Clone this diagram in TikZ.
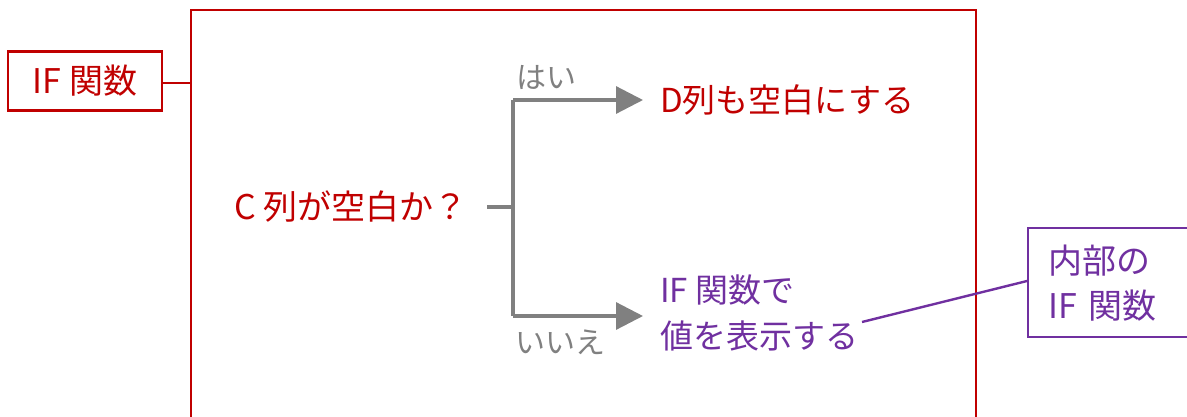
\documentclass[tikz,border=0pt]{standalone}
\usepackage{fontspec}
\setmainfont{Noto Sans CJK JP}
\usetikzlibrary{arrows.meta}
\definecolor{xred}{HTML}{C00000}
\definecolor{xpurple}{HTML}{7030A0}
\definecolor{xgray}{HTML}{808080}
\begin{document}
\begin{tikzpicture}[x=1pt,y=-1pt,
  redtxt/.style={text=xred,font=\fontsize{34}{40}\selectfont,inner sep=0pt},
  purtxt/.style={text=xpurple,font=\fontsize{33}{46}\selectfont,inner sep=0pt,align=left},
  graytxt/.style={text=xgray,font=\fontsize{30}{34}\selectfont,inner sep=0pt},
  conn/.style={draw=xgray,line width=3.2pt},
  arr/.style={conn,-{Triangle[length=27pt,width=27pt]}}]
\useasboundingbox (0,0) rectangle (1187,416);
% outer red frame (open at bottom)
\draw[xred,line width=2.4pt] (191,420) -- (191,10) -- (976,10) -- (976,420);
\coordinate (frameL) at (191,83);
% IF box
\node[draw=xred,line width=2.4pt,minimum width=154pt,minimum height=59pt,inner sep=0pt,
  text=xred,font=\fontsize{34}{40}\selectfont] (ifbox) at (85,81) {IF 関数};
\draw[xred,line width=2.4pt] (ifbox.east |- frameL) -- (frameL);
% question
\node[redtxt] (q) at (351,207) {C 列が空白か？};
\coordinate (qe) at (487,207);
\coordinate (br) at (513,207);
\coordinate (byes) at (513,100);
\coordinate (bno) at (513,316);
\node[redtxt,anchor=west,font=\fontsize{33}{40}\selectfont] (yes) at (660,100) {D列も空白にする};
\node[purtxt,anchor=west] (no) at (660,313) {IF 関数で\\値を表示する};
\coordinate (ayes) at (643,100);
\coordinate (ano) at (643,316);
\draw[conn] (qe) -- (br);
\draw[arr] (byes) |- (ayes);
\draw[arr] (bno) |- (ano);
\draw[conn] (byes) -- (bno);
\node[graytxt] (hai) at (546,77) {はい};
\node[graytxt] (iie) at (560,342) {いいえ};
% inner IF box
\node[draw=xpurple,line width=2.4pt,minimum width=175pt,minimum height=109pt,inner xsep=20pt,inner ysep=0pt,
  anchor=north west,text=xpurple,font=\fontsize{34}{45}\selectfont,align=left,
  text width=135pt] (inner) at (1027,227) {内部の\\IF 関数};
\coordinate (callout) at (862,322);
\draw[xpurple,line width=2.4pt] (callout) -- (inner.west |- 0,281);
\end{tikzpicture}
\end{document}
